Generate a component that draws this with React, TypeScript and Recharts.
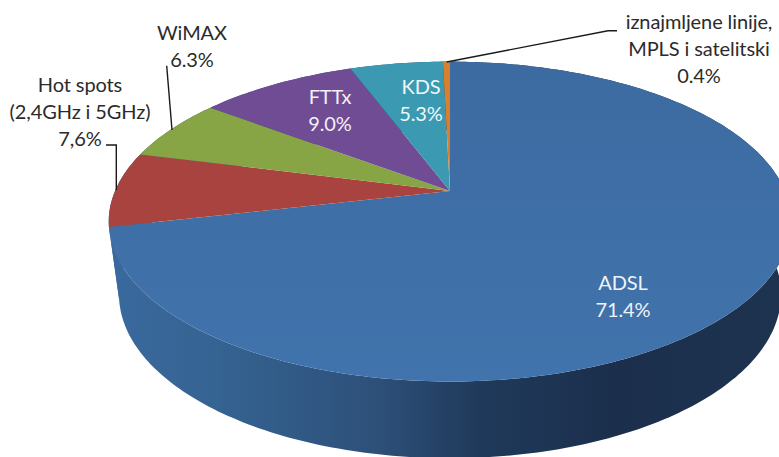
import { Pie, PieChart } from "recharts";

// Values
const categories = ["ADSL", "Hot spots", "WiMAX", "FTTx", "KDS", "iznajmljene linije"];
const shares = [71.4, 7.6, 6.3, 9.0, 5.3, 0.4];
const faceColors = ["url(#adslFace)", "#a9433f", "#87a544", "#6f4c94", "#3b9ab2", "#d9802e"];
const labelLines = [
  ["ADSL", "71.4%"],
  ["Hot spots", "(2,4GHz i 5GHz)", "7,6%"],
  ["WiMAX", "6.3%"],
  ["FTTx", "9.0%"],
  ["KDS", "5.3%"],
  ["iznajmljene linije,", "MPLS i satelitski", "0.4%"],
];

const data = categories.map((name, i) => ({ name, value: shares[i] }));

// Where the labels sit: [center x, first baseline, colour]
const labelSpots: [number, number, string][] = [
  [623, 290, "#eef3f8"],
  [80, 92, "#2b2b2b"],
  [192, 39.5, "#2b2b2b"],
  [330, 104, "#f3eff7"],
  [421, 94, "#eef8fa"],
  [699, 29, "#2b2b2b"],
];

const leaderLines = [
  null,
  "106,145 116.3,145 116.3,190",
  "166.7,65.7 172,130",
  null,
  null,
  "446.7,62 608,30.7 617,30.7",
];

// 3D look: a circle seen in perspective, the back of the pie is further away
const PERSPECTIVE = 0.191;
const TILT = 0.46;
const BOTTOM_TILT = 0.486;
const CX = 450;
const CY = 191;
const RADIUS = 335;
const BOTTOM_DROP = 72;
const BOTTOM_SCALE = 0.97;

function project(cx: number, cy: number, r: number, deg: number, tilt: number) {
  const t = (deg * Math.PI) / 180;
  const w = 1 + PERSPECTIVE * Math.cos(t);
  return [cx + (r * Math.sin(t)) / w, cy - (r * tilt * Math.cos(t)) / w];
}

function arcPoints(cx: number, cy: number, r: number, from: number, to: number, tilt: number) {
  const steps = Math.max(2, Math.ceil(Math.abs(to - from)));
  const pts: number[][] = [];
  for (let i = 0; i <= steps; i++) {
    pts.push(project(cx, cy, r, from + ((to - from) * i) / steps, tilt));
  }
  return pts;
}

const toPath = (pts: number[][]) =>
  "M" + pts.map((p) => `${p[0].toFixed(1)},${p[1].toFixed(1)}`).join("L") + "Z";

function FaceSlice(props: any) {
  const { cx, cy, outerRadius, startAngle, endAngle, index } = props;
  const pts = arcPoints(cx, cy, outerRadius, 90 - startAngle, 90 - endAngle, TILT);
  return <path d={toPath([[cx, cy], ...pts])} fill={faceColors[index]} stroke="none" />;
}

function WallSlice(props: any) {
  const { cx, cy, outerRadius, startAngle, endAngle } = props;
  const from = 90 - startAngle;
  const to = 90 - endAngle;
  const top = arcPoints(cx, cy, outerRadius, from, to, TILT);
  const bottom = arcPoints(cx, cy + BOTTOM_DROP, outerRadius * BOTTOM_SCALE, to, from, BOTTOM_TILT);
  return <path d={toPath([...top, ...bottom])} fill="url(#wall)" stroke="none" />;
}

function SliceLabel(props: any) {
  const { index } = props;
  const [x, y, color] = labelSpots[index];
  const line = leaderLines[index];
  return (
    <g>
      {line && <polyline points={line} fill="none" stroke="#1a1a1a" strokeWidth={1.4} />}
      <text
        x={x}
        y={y}
        textAnchor="middle"
        fontFamily="Lato, sans-serif"
        fontSize={20}
        letterSpacing={-0.1}
        fill={color}
      >
        {labelLines[index].map((text, i) => (
          <tspan key={i} x={x} y={y + i * 27}>
            {text}
          </tspan>
        ))}
      </text>
    </g>
  );
}

export default function App() {
  return (
    <div style={{ position: "absolute", left: 0, top: 0, width: 779, height: 457, background: "#fff" }}>
      <PieChart width={779} height={457} margin={{ top: 0, right: 0, bottom: 0, left: 0 }}>
        <defs>
          <linearGradient id="wall" gradientUnits="userSpaceOnUse" x1={110} y1={0} x2={779} y2={0}>
            <stop offset="0" stopColor="#3a699e" />
            <stop offset="0.16" stopColor="#356392" />
            <stop offset="0.4" stopColor="#2d5079" />
            <stop offset="0.55" stopColor="#203a5b" />
            <stop offset="0.75" stopColor="#1b2f4c" />
            <stop offset="1" stopColor="#1d3350" />
          </linearGradient>
          <linearGradient id="adslFace" gradientUnits="userSpaceOnUse" x1={0} y1={62} x2={0} y2={381}>
            <stop offset="0" stopColor="#3c6ba1" />
            <stop offset="1" stopColor="#4173ac" />
          </linearGradient>
        </defs>
        <Pie
          data={data}
          dataKey="value"
          cx={CX}
          cy={CY}
          outerRadius={RADIUS}
          startAngle={90}
          endAngle={-270}
          shape={WallSlice}
          stroke="none"
          label={false}
          isAnimationActive={false}
        />
        <Pie
          data={data}
          dataKey="value"
          cx={CX}
          cy={CY}
          outerRadius={RADIUS}
          startAngle={90}
          endAngle={-270}
          shape={FaceSlice}
          stroke="none"
          label={SliceLabel}
          labelLine={false}
          isAnimationActive={false}
        />
      </PieChart>
    </div>
  );
}
